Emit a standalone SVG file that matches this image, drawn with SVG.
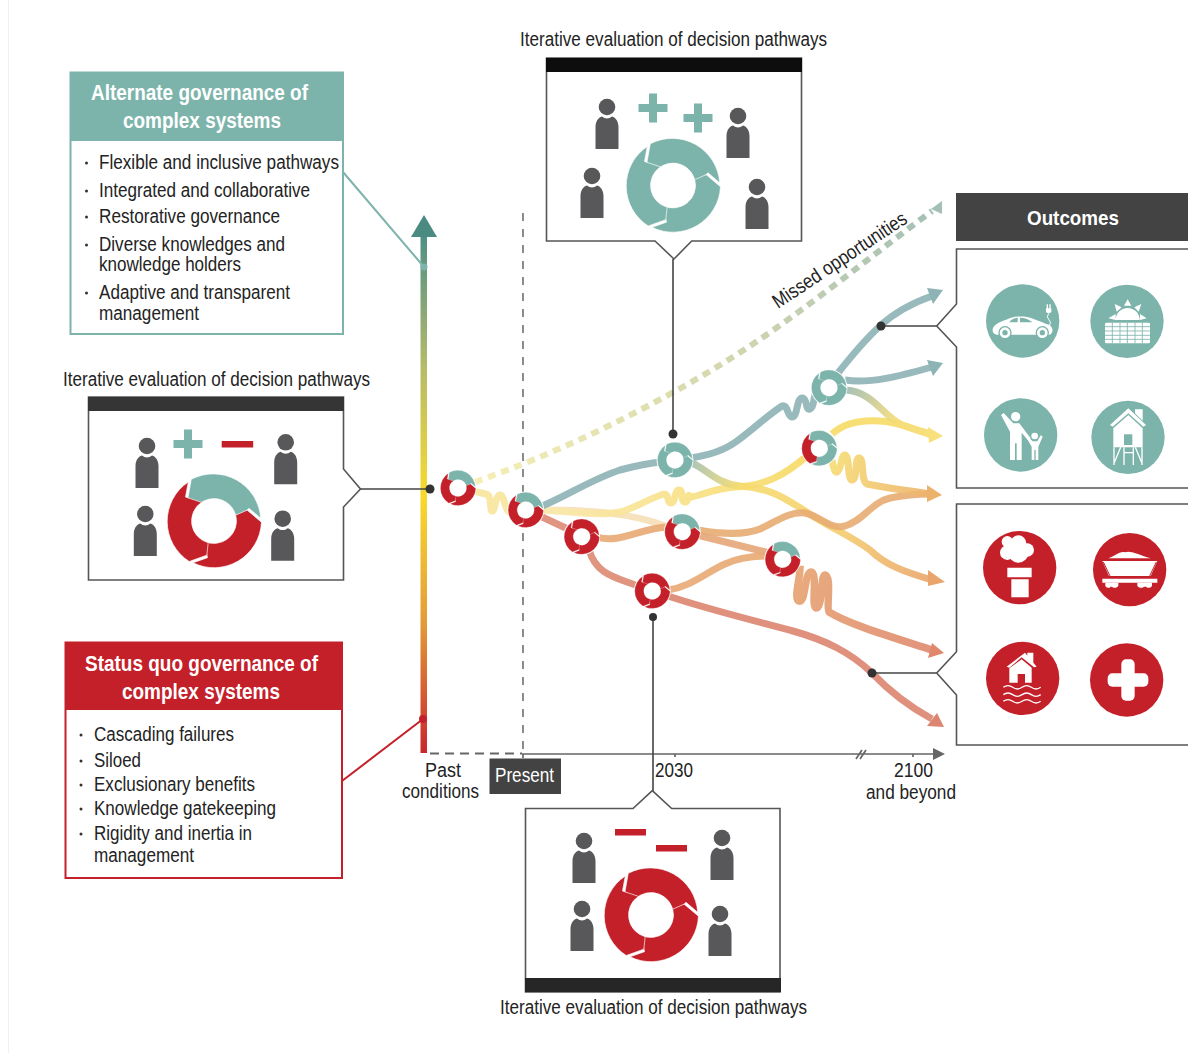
<svg xmlns="http://www.w3.org/2000/svg" width="1188" height="1053" viewBox="0 0 1188 1053">
<style>
.t{font-family:"Liberation Sans",Arial,sans-serif;font-size:20px;fill:#232323}
.w{fill:#fff}
.h{font-weight:bold;font-size:22px;fill:#fff}
.c{text-anchor:middle}
.box{fill:#fff;stroke:#555;stroke-width:1.6}
.lead{fill:none;stroke:#444;stroke-width:1.6}
.dot{fill:#333}
.p{fill:none;stroke-width:7;stroke-linecap:butt;stroke-linejoin:round;stroke-opacity:.9}
.ic{fill:#fff}
.icl{fill:none;stroke:#fff}
</style>
<defs>
<linearGradient id="bar" gradientUnits="userSpaceOnUse" x1="0" y1="237" x2="0" y2="753">
<stop offset="0" stop-color="#4f8f85"/><stop offset=".25" stop-color="#b5bb6a"/><stop offset=".5" stop-color="#f8da2e"/><stop offset=".75" stop-color="#e39a38"/><stop offset="1" stop-color="#c9262c"/>
</linearGradient>
<linearGradient id="miss" gradientUnits="userSpaceOnUse" x1="475" y1="482" x2="935" y2="210">
<stop offset="0" stop-color="#f5efb6"/><stop offset=".5" stop-color="#d5d8ae"/><stop offset="1" stop-color="#a3c0b5"/>
</linearGradient>
<linearGradient id="ty" gradientUnits="userSpaceOnUse" x1="846" y1="390" x2="932" y2="434">
<stop offset="0" stop-color="#9dbab0"/><stop offset=".6" stop-color="#f5dc78"/><stop offset="1" stop-color="#f8e07c"/>
</linearGradient>
<linearGradient id="tyo" gradientUnits="userSpaceOnUse" x1="692" y1="463" x2="932" y2="580">
<stop offset="0" stop-color="#a5c0ae"/><stop offset=".2" stop-color="#f6dc6e"/><stop offset=".6" stop-color="#f5ce6c"/><stop offset="1" stop-color="#e9a56c"/>
</linearGradient>
<linearGradient id="pale" gradientUnits="userSpaceOnUse" x1="543" y1="510" x2="808" y2="455">
<stop offset="0" stop-color="#f9e9ae"/><stop offset="1" stop-color="#f7d960"/>
</linearGradient>
<linearGradient id="yo" gradientUnits="userSpaceOnUse" x1="832" y1="460" x2="930" y2="494">
<stop offset="0" stop-color="#f6dc72"/><stop offset="1" stop-color="#ecb26c"/>
</linearGradient>
<linearGradient id="oo" gradientUnits="userSpaceOnUse" x1="800" y1="566" x2="932" y2="650">
<stop offset="0" stop-color="#e6a26f"/><stop offset="1" stop-color="#df886e"/>
</linearGradient>
<path id="seg" d="M-22.7 -41.7A47.5 47.5 0 0 1 46.7 -2.7L35 -12.7L22.4 -1.500A22.500 22.500 0 0 0 -15.900 -15.900L-26 -23.3Z" stroke="#fff" stroke-width=".6"/>
<g id="ringA"><circle r="49" fill="#fff"/><use href="#seg" fill="#7cb4ab"/><use href="#seg" transform="rotate(120)" fill="#c4202a"/><use href="#seg" transform="rotate(240)" fill="#c4202a"/></g>
<g id="ringR"><circle r="49" fill="#fff"/><use href="#seg" fill="#c4202a"/><use href="#seg" transform="rotate(120)" fill="#c4202a"/><use href="#seg" transform="rotate(240)" fill="#c4202a"/></g>
<g id="ringT"><circle r="49" fill="#fff"/><use href="#seg" fill="#7cb4ab"/><use href="#seg" transform="rotate(120)" fill="#7cb4ab"/><use href="#seg" transform="rotate(240)" fill="#7cb4ab"/></g>
<g id="ringB"><circle r="49" fill="#fff"/><use href="#seg" fill="#7cb4ab"/><use href="#seg" transform="rotate(120)" fill="#7cb4ab"/><use href="#seg" transform="rotate(240)" fill="#c4202a"/></g>
<g id="person" fill="#58585a"><path d="M-11.5 42V20C-11.5 13 -7 9.500 -5 9.500C-2 12 2 12 5 9.500C7 9.500 11.500 13 11.500 20V42Z"/><circle r="8.300"/></g>
<path id="plus" d="M-4 -14.500H4V-4H14.500V4H4V14.500H-4V4H-14.500V-4H-4Z" fill="#7cb4ab"/>
</defs>
<rect width="1188" height="1053" fill="#fff"/>
<line x1="8.500" y1="0" x2="8.500" y2="1053" stroke="#f0f0f0"/>

<g id="connectors">
<line x1="523" y1="213" x2="523" y2="753" stroke="#666" stroke-width="1.500" stroke-dasharray="8 8"/>
<path d="M430 753.500H522" stroke="#666" stroke-width="2" stroke-dasharray="9 6" fill="none"/>
<path d="M522 754H934M523 754V758M675 754V757M913 754V757M856 759L862 750M860 759L866 750" stroke="#666" stroke-width="1.700" fill="none"/>
<polygon points="933,748 945,754 933,760" fill="#666"/>
<rect x="420.500" y="237" width="6.500" height="516" fill="url(#bar)"/>
<polygon points="411,237 437,237 424,215" fill="#4a8a80"/>
<path d="M343 172L424 267" stroke="#7cb4ab" stroke-width="2" fill="none"/>
<path d="M342 781L423 719" stroke="#c4202a" stroke-width="2" fill="none"/>
<circle cx="424" cy="267" r="3.500" fill="#7cb4ab"/>
<circle cx="423" cy="719" r="4" fill="#c4202a"/>

<path d="M475 482C560 452 660 405 750 346C810 306 870 257 932 211" fill="none" stroke="url(#miss)" stroke-width="6" stroke-dasharray="8 6"/>
<polygon points="942,201 931,209 942,214" fill="#a3c0b5"/>

<path class="p" stroke="#f8e69b" d="M470 491C478 492 484 493 488 495C491 497 490 511 492 511C495 512 495 496 500 495C505 495 503 508 510 513"/>
<path class="p" stroke="#f6dfb7" d="M543 510C585 510 630 512 668 527"/>
<path class="p" stroke="url(#pale)" d="M543 510C570 512 600 516 620 512C635 508 650 498 664 494C670 494 666 503 671 503C676 503 674 490 679 490C684 490 680 502 685 502C690 502 686 491 691 497C700 496 715 488 735 487C765 486 785 475 808 455"/>
<path class="p" stroke="#8db3b5" d="M540 507C565 497 590 480 620 470C635 466 650 463 662 462"/>
<path class="p" stroke="#db8a73" d="M540 516L570 530"/>
<path class="p" stroke="#e8a873" d="M597 537C620 544 640 528 668 527"/>
<path class="p" stroke="#dc8972" d="M589 550C597 577 620 578 640 587"/>
<path class="p" stroke="#8db3b5" d="M690 458C712 455 725 450 737 441C752 430 768 415 782 406C788 404 787 416 792 417C798 417 796 399 802 398C808 398 805 411 810 409C815 407 813 392 818 390"/>
<path class="p" stroke="url(#tyo)" d="M692 463C708 470 715 483 740 486C770 488 785 498 805 511C830 528 850 535 870 550C885 565 905 572 932 580"/>
<polygon points="945,582 928,570 928,586" fill="#e9a56c"/>
<path class="p" stroke="#8db3b5" d="M838 373C853 354 868 337 880 326C895 312 915 302 932 296"/>
<polygon points="943,290 927,288 933,304" fill="#8db3b5"/>
<path class="p" stroke="#8db3b5" d="M845 380C870 384 900 376 932 367"/>
<polygon points="943,363 927,360 933,376" fill="#8db3b5"/>
<path class="p" stroke="#f7dc66" d="M832 434C845 422 865 420 880 421C900 422 915 430 932 435"/>
<path class="p" stroke="url(#ty)" d="M846 390C875 392 885 420 905 426C915 430 922 432 932 434"/>
<polygon points="943,436 928,427 929,443" fill="#f8e07c"/>
<path class="p" stroke="#e8ac72" d="M698 530C720 534 745 535 760 529C775 522 790 511 805 513C820 516 830 530 845 526C865 520 870 503 890 498C905 495 915 494 930 494"/>
<path class="p" stroke="url(#yo)" d="M832 460C834 472 836 474 838 471C842 466 841 455 845 455C850 456 847 480 852 480C858 480 854 458 859 458C865 458 860 480 867 484C885 488 905 490 930 494"/>
<polygon points="942,495 927,485 927,502" fill="#ecb26c"/>
<path class="p" stroke="#e5a678" d="M697 535L770 553"/>
<path class="p" stroke="#e8a873" d="M668 590C690 587 705 573 725 564C740 557 755 556 770 556"/>
<path class="p" stroke="url(#oo)" style="stroke-width:7.500" d="M800 566C801 575 793 600 799 601C806 603 804 573 811 572C818 572 811 607 816 608C823 608 820 576 825 575C832 576 826 608 829 612C850 625 895 638 932 650"/>
<polygon points="944,653 932,643 928,658" fill="#df886e"/>
<path class="p" stroke="#dc8570" d="M668 596C710 610 760 622 793 631C825 640 850 652 872 673C890 692 910 707 932 719"/>
<polygon points="944,727 937,713 927,726" fill="#dc8570"/>

<path class="lead" d="M358 489H430M673 259V434M881 326H937M872 673H937M653 617V791"/>
<circle class="dot" cx="430" cy="489" r="4.500"/>
<circle class="dot" cx="673" cy="434" r="4.500"/>
<circle class="dot" cx="881" cy="326" r="4.500"/>
<circle class="dot" cx="872" cy="673" r="4.500"/>
<circle class="dot" cx="653" cy="617" r="4"/>
</g>

<g id="ring-nodes">
<use href="#ringA" transform="translate(458,488) scale(.376)"/>
<use href="#ringA" transform="translate(525.700,510) scale(.376)"/>
<use href="#ringR" transform="translate(581.700,536.700) scale(.376)"/>
<use href="#ringT" transform="translate(675,460) scale(.376)"/>
<use href="#ringA" transform="translate(682.300,531.700) scale(.376)"/>
<use href="#ringR" transform="translate(652.300,591) scale(.376)"/>
<use href="#ringA" transform="translate(782.700,559.300) scale(.376)"/>
<use href="#ringT" transform="translate(829,387.700) scale(.376)"/>
<use href="#ringB" transform="translate(819.300,448.300) scale(.376)"/>
</g>

<g id="alternate-governance">
<rect x="70.500" y="72.500" width="272.500" height="261.500" fill="#fff" stroke="#7cb4ab" stroke-width="2"/>
<rect x="70" y="72" width="273.500" height="69" fill="#7cb4ab"/>
<text class="t h" x="91" y="100" textLength="217" lengthAdjust="spacingAndGlyphs">Alternate governance of</text>
<text class="t h" x="123" y="128" textLength="158" lengthAdjust="spacingAndGlyphs">complex systems</text>
<g fill="#333"><circle cx="86.500" cy="163" r="1.500"/><circle cx="86.500" cy="191" r="1.500"/><circle cx="86.500" cy="217" r="1.500"/><circle cx="86.500" cy="245" r="1.500"/><circle cx="86.500" cy="293" r="1.500"/></g>
<text class="t" x="99" y="169" textLength="240" lengthAdjust="spacingAndGlyphs">Flexible and inclusive pathways</text>
<text class="t" x="99" y="197" textLength="211" lengthAdjust="spacingAndGlyphs">Integrated and collaborative</text>
<text class="t" x="99" y="223" textLength="181" lengthAdjust="spacingAndGlyphs">Restorative governance</text>
<text class="t" x="99" y="251" textLength="186" lengthAdjust="spacingAndGlyphs">Diverse knowledges and</text>
<text class="t" x="99" y="271" textLength="142" lengthAdjust="spacingAndGlyphs">knowledge holders</text>
<text class="t" x="99" y="299" textLength="191" lengthAdjust="spacingAndGlyphs">Adaptive and transparent</text>
<text class="t" x="99" y="320" textLength="100" lengthAdjust="spacingAndGlyphs">management</text>
</g>

<g id="status-quo-governance">
<rect x="65.500" y="642.500" width="276.500" height="235.500" fill="#fff" stroke="#c4202a" stroke-width="2"/>
<rect x="65" y="642" width="277.500" height="68" fill="#c4202a"/>
<text class="t h" x="85" y="671" textLength="233" lengthAdjust="spacingAndGlyphs">Status quo governance of</text>
<text class="t h" x="122" y="699" textLength="158" lengthAdjust="spacingAndGlyphs">complex systems</text>
<g fill="#333"><circle cx="81" cy="735" r="1.500"/><circle cx="81" cy="761" r="1.500"/><circle cx="81" cy="785" r="1.500"/><circle cx="81" cy="809" r="1.500"/><circle cx="81" cy="834" r="1.500"/></g>
<text class="t" x="94" y="741" textLength="140" lengthAdjust="spacingAndGlyphs">Cascading failures</text>
<text class="t" x="94" y="767" textLength="47" lengthAdjust="spacingAndGlyphs">Siloed</text>
<text class="t" x="94" y="791" textLength="161" lengthAdjust="spacingAndGlyphs">Exclusionary benefits</text>
<text class="t" x="94" y="815" textLength="182" lengthAdjust="spacingAndGlyphs">Knowledge gatekeeping</text>
<text class="t" x="94" y="840" textLength="158" lengthAdjust="spacingAndGlyphs">Rigidity and inertia in</text>
<text class="t" x="94" y="862" textLength="100" lengthAdjust="spacingAndGlyphs">management</text>
</g>

<g id="evaluation-left">
<text class="t" x="63" y="386" textLength="307" lengthAdjust="spacingAndGlyphs">Iterative evaluation of decision pathways</text>
<path class="box" d="M88.500 397H343.500V469L360.500 489L343.500 507V580H88.500Z"/>
<rect x="88" y="397" width="256" height="14" fill="#353535"/>
<use href="#person" transform="translate(147,446)"/>
<use href="#person" transform="translate(285.700,442.300)"/>
<use href="#person" transform="translate(145.300,514)"/>
<use href="#person" transform="translate(282.700,518.700)"/>
<use href="#plus" transform="translate(188,444)"/>
<rect x="221.700" y="441" width="31.500" height="6.500" fill="#c4202a"/>
<use href="#ringA" transform="translate(214,521)"/>
</g>

<g id="evaluation-top">
<text class="t" x="520" y="46" textLength="307" lengthAdjust="spacingAndGlyphs">Iterative evaluation of decision pathways</text>
<path class="box" d="M546.500 58H801.500V241H691.700L674 259L655 241H546.500Z"/>
<rect x="546" y="58" width="256" height="14" fill="#0d0d0d"/>
<use href="#person" transform="translate(607,107)"/>
<use href="#person" transform="translate(738,116)"/>
<use href="#person" transform="translate(592,176)"/>
<use href="#person" transform="translate(757,187)"/>
<use href="#plus" transform="translate(653,108)"/>
<use href="#plus" transform="translate(698,118)"/>
<use href="#ringT" transform="translate(673,185.500)"/>
</g>

<g id="evaluation-bottom">
<text class="t" x="500" y="1014" textLength="307" lengthAdjust="spacingAndGlyphs">Iterative evaluation of decision pathways</text>
<path class="box" d="M525.500 808.500H633L652.300 790.700L671.700 808.500H780V992H525.500Z"/>
<rect x="525" y="978" width="256" height="14" fill="#262626"/>
<use href="#person" transform="translate(584,841)"/>
<use href="#person" transform="translate(722,838)"/>
<use href="#person" transform="translate(582,909)"/>
<use href="#person" transform="translate(720,914)"/>
<rect x="615" y="829" width="31" height="6.500" fill="#c4202a"/>
<rect x="656" y="845" width="31" height="6.500" fill="#c4202a"/>
<use href="#ringR" transform="translate(651,915)"/>
</g>

<g id="timeline-labels">
<text class="t c" x="443" y="777" textLength="36" lengthAdjust="spacingAndGlyphs">Past</text>
<text class="t c" x="440.500" y="798" textLength="77" lengthAdjust="spacingAndGlyphs">conditions</text>
<rect x="489.500" y="758.500" width="71.500" height="35.500" fill="#434343"/>
<text class="t w" x="495" y="782" textLength="59" lengthAdjust="spacingAndGlyphs">Present</text>
<text class="t" x="655" y="777" textLength="38" lengthAdjust="spacingAndGlyphs">2030</text>
<text class="t" x="894" y="777" textLength="39" lengthAdjust="spacingAndGlyphs">2100</text>
<text class="t" x="866" y="799" textLength="90" lengthAdjust="spacingAndGlyphs">and beyond</text>
<text class="t" transform="translate(778,309) rotate(-33.700)" textLength="157" lengthAdjust="spacingAndGlyphs">Missed opportunities</text>
</g>

<g id="outcomes-header">
<rect x="956" y="193" width="232" height="48" fill="#434343"/>
<text class="t w" x="1027" y="225" font-weight="bold" textLength="92" lengthAdjust="spacingAndGlyphs" style="font-size:21px">Outcomes</text>
</g>

<g id="outcomes-positive">
<path class="box" d="M1190 249H956.500V304L936.700 326L956.500 347V488H1190"/>
<g transform="translate(950,250) scale(.33333)">
<circle cx="218" cy="213" r="110" fill="#7cb4ab"/>
<circle cx="531" cy="214" r="110" fill="#7cb4ab"/>
<circle cx="212" cy="555" r="110" fill="#7cb4ab"/>
<circle cx="534" cy="562" r="110" fill="#7cb4ab"/>
<path class="ic" d="M128 238C130 225 150 215 172 208C190 198 225 196 245 205C262 212 285 220 300 226C310 235 310 248 300 254L140 254C130 252 127 245 128 238Z"/>
<path fill="#7cb4ab" d="M178 217C185 205 200 203 203 203L203 217ZM210 203C225 203 238 208 247 217L210 217Z"/>
<circle cx="165" cy="248" r="18" fill="#fff" stroke="#7cb4ab" stroke-width="4"/>
<circle cx="277" cy="248" r="18" fill="#fff" stroke="#7cb4ab" stroke-width="4"/>
<circle cx="165" cy="248" r="8" fill="#7cb4ab"/>
<circle cx="277" cy="248" r="8" fill="#7cb4ab"/>
<path class="ic" d="M288 175H304V186Q296 194 288 186ZM290 163H294V175H290ZM298 163H302V175H298Z"/>
<path class="icl" stroke-width="3" d="M296 190Q288 202 296 208Q306 216 298 228"/>
<rect class="ic" x="465" y="218" width="135" height="62" rx="4"/>
<path fill="none" stroke="#7cb4ab" stroke-width="2.500" d="M465 230H600M465 243H600M465 256H600M465 268H600M487 218V280M510 218V280M532 218V280M555 218V280M577 218V280"/>
<path class="ic" d="M497 210A36 36 0 0 1 569 210ZM533 148L522 167H544ZM494 162L515 172L500 185ZM574 162L553 172L566 185ZM475 205L497 192V210ZM590 205L570 192V210Z"/>
<circle class="ic" cx="197" cy="500" r="14"/>
<path class="ic" d="M180 630V545L153 495L161 489L190 520H208L242 565L235 572L215 548V630H200V580H195V630Z"/>
<circle class="ic" cx="254" cy="558" r="10"/>
<path class="ic" d="M245 630V590L232 568L238 564L248 574H262L272 556L278 560L265 590V630H257V600H253V630Z"/>
<path class="ic" d="M480 525L535 475L588 525L580 530L535 490L488 530ZM555 478H578V512L555 490ZM490 535L535 495L578 535V592H490Z"/>
<rect x="522" y="553" width="25" height="32" fill="#7cb4ab"/>
<path class="icl" stroke-width="4" d="M492 592V645M522 592V645M550 592V645M576 592V645M492 640L512 592M576 640L556 592M522 608H550"/>
</g>
</g>

<g id="outcomes-negative">
<path class="box" d="M1190 504H956.500V651.700L936.700 673L956.500 695V745H1190"/>
<g transform="translate(950,500) scale(.33333)">
<circle cx="209" cy="203" r="110" fill="#c4202a"/>
<circle cx="539" cy="209" r="110" fill="#c4202a"/>
<circle cx="218" cy="535" r="110" fill="#c4202a"/>
<circle cx="530" cy="540" r="110" fill="#c4202a"/>
<path class="ic" d="M172 203H245V232H172ZM184 238H236V292H184Z"/>
<g class="ic"><circle cx="172" cy="125" r="17"/><circle cx="205" cy="130" r="24"/><circle cx="232" cy="150" r="20"/><circle cx="172" cy="158" r="22"/><circle cx="205" cy="158" r="30"/></g>
<path class="ic" d="M475 175C495 168 510 152 525 157C540 150 560 162 603 175ZM457 183H622L602 228H477ZM457 236H622V248H457Z"/>
<path fill="none" stroke="#c4202a" stroke-width="3" d="M460 186L480 228M619 186L599 228"/>
<path class="ic" d="M466 248H505V258Q495 268 486 260H482Q474 268 466 258ZM562 248H606V258Q598 268 588 260H582Q572 268 562 258Z"/>
<path class="ic" d="M170 500L225 458L260 500L252 502L215 472L178 503ZM232 458H250V490L232 474ZM178 505L215 478L245 503V548H225V522H203V548H178Z"/>
<path class="icl" stroke-width="4" d="M160 562Q174 552 188 562T216 562T244 562T272 562M160 584Q174 574 188 584T216 584T244 584T272 584M160 604Q174 594 188 604T216 604T244 604T272 604"/>
<rect class="ic" x="473" y="520" width="122" height="40" rx="14"/>
<rect class="ic" x="514" y="478" width="40" height="124" rx="14"/>
</g>
</g>
</svg>
